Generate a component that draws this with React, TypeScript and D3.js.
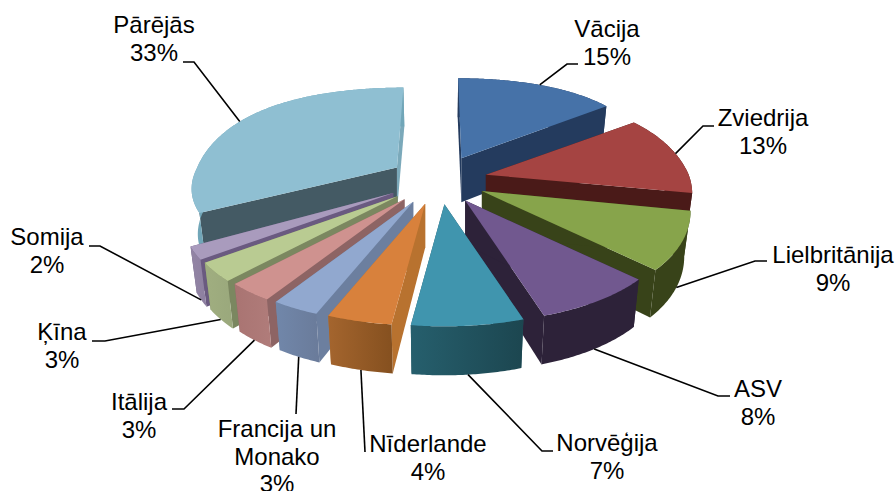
import * as d3 from "d3"

const categories = ["Vācija", "Zviedrija", "Lielbritānija", "ASV", "Norvēģija", "Nīderlande", "Francija un Monako", "Itālija", "Ķīna", "Somija", "Pārējās"]
const shares = [15, 13, 9, 8, 7, 4, 3, 3, 3, 2, 33]

const topColors = ["#4672a8", "#a54442", "#87a44b", "#71588f", "#4095ae", "#d8813c", "#91a8cf", "#cf928f", "#b9cb92", "#a99bbd", "#8fbfd2"]
const startCutColors = ["#243b5e", "#4a1a18", "#384319", "#2d2239", "#265866", "#b8722f", "#6c7f9f", "#8d6464", "#7b8760", "#6a5a80", "#445a64"]
const endCutColors = ["#243b5e", "#4a1a18", "#384319", "#2d2239", "#265866", "#b8722f", "#6c7f9f", "#8d6464", "#7b8760", "#6a5a80", "#7ba9ba"]
const rimFrom = ["#243b5e", "#4a1a18", "#384319", "#2d2239", "#265f6d", "#a4652e", "#7187aa", "#a97472", "#a0ae80", "#9385a5", "#71a6b8"]
const rimTo = ["#243b5e", "#4a1a18", "#384319", "#2d2239", "#1c4650", "#85501f", "#6a7b9a", "#b07c7a", "#9aa87c", "#8d7fa0", "#71a6b8"]

// far slices first, then both sides towards the viewer
const drawOrder = [10, 0, 1, 2, 3, 9, 8, 7, 6, 5, 4]

// label: centre x, first baseline; leader: elbow (optional) and end
const labelLines = [["Vācija", "15%"], ["Zviedrija", "13%"], ["Lielbritānija", "9%"], ["ASV", "8%"], ["Norvēģija", "7%"], ["Nīderlande", "4%"], ["Francija un", "Monako", "3%"], ["Itālija", "3%"], ["Ķīna", "3%"], ["Somija", "2%"], ["Pārējās", "33%"]]
const labelX = [607, 763, 833, 758, 607, 428, 277, 139, 62, 47, 154]
const labelY = [37, 126, 263, 397, 451, 452, 437, 410, 340, 245, 33]
const leaderEnds = [
  [[567, 64], [578, 64]],
  [[703, 126], [714, 126]],
  [[755, 261], [767, 261]],
  [[718, 396], [730, 396]],
  [[542, 451], [553, 451]],
  [[365, 452]],
  [[296, 414]],
  [[184, 409], [172, 409]],
  [[105, 341], [92, 341]],
  [[100, 246], [89, 246]],
  [[194, 62], [183, 62]],
]

const cx = 440
const cy = 180
const explodeY = 24.4

const slices = d3.pie<number>().sort(null).value(d => d)(shares)

// how far a pie corner lands from the slice apex, Excel's perspective is not a clean projection
const depthOf = (a: number) => -Math.cos(a)
const rimX = (a: number) => {
  const y = depthOf(a)
  const leftExtra = Math.sin(a) < 0 ? 10 * Math.max(y, 0) : 0
  return Math.sin(a) * (205 + 36 * y + 18 * y * y + leftExtra)
}
const rimY = (a: number) => depthOf(a) * (101 + 21 * depthOf(a))
const wall = (a: number) => 44 + 5 * depthOf(a)
const explodeX = (a: number) => Math.sin(a) > 0 ? 47 : 50 + 10 * Math.max(depthOf(a), 0)

const line = d3.line()

const App = () => {
  const parts = slices.map((s) => {
    const mid = (s.startAngle + s.endAngle) / 2
    const midDepth = depthOf(mid)
    const ax = cx + Math.sin(mid) * explodeX(mid)
    const ay = cy - Math.cos(mid) * explodeY
    // slices pushed to the back come out smaller
    const backScale = Math.min(midDepth, 0)
    const rim = (a: number): [number, number] => {
      const y = depthOf(a)
      const pull = (cx - ax) * 0.15 * Math.max(-y, 0)
      return [
        ax + pull + rimX(a) * (1 + 0.05 * backScale),
        ay + rimY(a) * (y > 0 ? 1 + 0.3 * backScale : 1),
      ]
    }
    // the bottom disc sits further away, so it narrows towards the middle
    const drop = (a: number): [number, number] => {
      const [x, y] = rim(a)
      return [x + (cx - x) * 0.025, y + wall(a)]
    }
    const steps = d3.range(s.startAngle, s.endAngle, 0.01).concat(s.endAngle)
    const upper = steps.map(rim)
    const lower = steps.map(drop)
    const apexH = wall(Math.PI / 2)
    const apex: [number, number] = [ax, ay]
    const apexLow: [number, number] = [ax, ay + apexH]
    const first = upper[0], firstLow = lower[0]
    const last = upper[upper.length - 1], lastLow = lower[lower.length - 1]
    const start: [number, number] = midDepth > 0 ? drop(mid) : rim(mid)
    return {
      top: line([apex, ...upper])! + "Z",
      rimWall: line([...upper, ...lower.slice().reverse()])! + "Z",
      cutA: line([apex, first, firstLow, apexLow])! + "Z",
      cutB: line([apex, last, lastLow, apexLow])! + "Z",
      start,
    }
  })

  return (
    <svg width={896} height={491} style={{ position: "absolute", left: 0, top: 0, background: "#fff" }}>
      <defs>
        {parts.map((_, i) => (
          <linearGradient key={i} id={`rim${i}`} x1="0" x2="1" y1="0" y2="0">
            <stop offset="0" stopColor={rimFrom[i]} />
            <stop offset="1" stopColor={rimTo[i]} />
          </linearGradient>
        ))}
      </defs>
      {drawOrder.map(i => (
        <g key={categories[i]}>
          <path d={parts[i].cutB} fill={endCutColors[i]} />
          <path d={parts[i].cutA} fill={startCutColors[i]} />
          <path d={parts[i].rimWall} fill={`url(#rim${i})`} />
          <path d={parts[i].top} fill={topColors[i]} />
        </g>
      ))}
      {parts.map((p, i) => (
        <path key={i} d={line([p.start, ...(leaderEnds[i] as [number, number][])])!} fill="none" stroke="#000" strokeWidth={1.6} />
      ))}
      {labelLines.map((lines, i) => (
        <text key={i} fontFamily="Liberation Sans" fontSize={24} fill="#000" textAnchor="middle">
          {lines.map((t, j) => (
            <tspan key={j} x={labelX[i]} y={labelY[i] + j * 27.7}>{t}</tspan>
          ))}
        </text>
      ))}
    </svg>
  )
}

export default App
